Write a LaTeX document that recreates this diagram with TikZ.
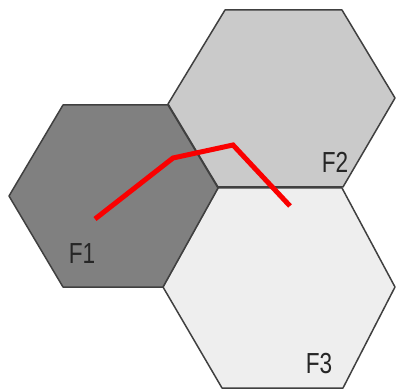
\documentclass[tikz,border=0pt]{standalone}
\usepackage{fontspec}
\setmainfont{Liberation Sans}
\usepackage{xcolor}
\usepackage{tikz}
\definecolor{edgegray}{RGB}{64,64,64}
\definecolor{darkfill}{RGB}{128,128,128}
\definecolor{midfill}{RGB}{202,202,202}
\definecolor{lightfill}{RGB}{238,238,238}
\definecolor{pathred}{RGB}{250,0,0}

\begin{document}
\begin{tikzpicture}[x=1pt, y=-1pt,
    cell/.style={draw=edgegray, line width=1.5pt, line join=round},
    celllabel/.style={font=\fontsize{29}{29}\selectfont, text=black!85, xscale=0.78, inner sep=0pt}]
  \useasboundingbox (0,0) rectangle (396,390);
  % Cell F2 (top right)
  \filldraw[cell, fill=midfill]
    (225,10) -- (342,10) -- (395,98) -- (343,187) -- (218,187) -- (168,104) -- cycle;
  % Cell F3 (bottom right)
  \filldraw[cell, fill=lightfill]
    (218,188) -- (342,188) -- (395,287) -- (343,388) -- (222,388) -- (163,287) -- cycle;
  % Cell F1 (left)
  \filldraw[cell, fill=darkfill]
    (63,105) -- (168,105) -- (218,188) -- (163,287) -- (63,287) -- (9,196) -- cycle;
  % Labels
  \node[celllabel] (labF1) at (82,254) {F1};
  \node[celllabel] (labF2) at (335,162) {F2};
  \node[celllabel] (labF3) at (319,364) {F3};
  % Red path across the cells
  \coordinate (p0) at (95,219);
  \coordinate (p1) at (173,158);
  \coordinate (p2) at (233,145);
  \coordinate (p3) at (290,206);
  \draw[pathred, line width=5pt, line join=miter] (p0) -- (p1) -- (p2) -- (p3);
\end{tikzpicture}
\end{document}
